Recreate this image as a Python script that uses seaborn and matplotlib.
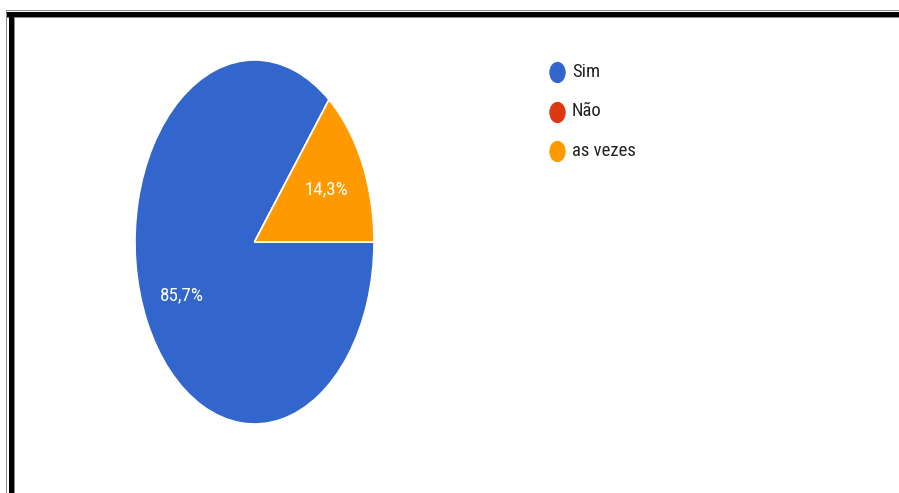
import matplotlib
matplotlib.use("Agg")
import matplotlib.pyplot as plt
import seaborn as sns
from matplotlib import font_manager
from matplotlib.patches import Rectangle
from matplotlib.path import Path
from matplotlib.transforms import Affine2D

# Survey answers
categories = ["Sim", "Não", "as vezes"]
values = [6, 0, 1]
colors = ["#3366cc", "#dc3912", "#ff9900"]

sns.set_theme(style="white")

installed = {f.name for f in font_manager.fontManager.ttflist}
narrow = [n for n in ("Roboto Condensed", "Liberation Sans Narrow", "Open Sans Condensed",
                      "DejaVu Sans Condensed") if n in installed]
FONT = narrow[0] if narrow else "Roboto"
SCALE = 1.12 if narrow else 1.0
plt.rcParams["font.family"] = [FONT, "DejaVu Sans"]

W, H = 899, 493
fig = plt.figure(figsize=(W / 100, H / 100), dpi=100)
fig.patch.set_facecolor("white")


def fig_box(x0, y0, x1, y1):
    """Pixel box (top-left origin) -> figure fraction rect."""
    return [x0 / W, 1 - y1 / H, (x1 - x0) / W, (y1 - y0) / H]


# Pie axes (stretched vertically)
ax = fig.add_axes(fig_box(135, 60, 374, 424))


def pct_label(p):
    return f"{p:.1f}%".replace(".", ",") if p > 0 else ""


wedges, _, autotexts = ax.pie(
    values,
    colors=colors,
    startangle=0,
    counterclock=False,
    autopct=pct_label,
    pctdistance=0.67,
    wedgeprops=dict(edgecolor="white", linewidth=1.2),
    textprops=dict(color="white", fontsize=12.2 * SCALE),
)
ax.set_aspect("auto")
ax.set_xlim(-1, 1)
ax.set_ylim(-1, 1)
ax.axis("off")

# Legend drawn on a full-figure overlay in pixel units
lax = fig.add_axes([0, 0, 1, 1])
lax.set_xlim(0, W)
lax.set_ylim(H, 0)
lax.axis("off")
lax.patch.set_alpha(0)

oval = Path.unit_circle().transformed(Affine2D().scale(1.0, 1.3))
legend_y = [72, 111.5, 151]
for cat, col, yy in zip(categories, colors, legend_y):
    lax.scatter([556.5], [yy], s=235, marker=oval, color=col, linewidths=0)
    lax.text(572, yy, cat, fontsize=12.0 * SCALE, color="#222222", va="center", ha="left")

# Window frame
frame = [
    ((6, 10, W, 11), "#8a8a8a"),
    ((6, 12, W, 17), "#000000"),
    ((6, 17, W, 18), "#8a8a8a"),
    ((6, 10, 7, H), "#8a8a8a"),
    ((9, 12, 14, H), "#000000"),
    ((14, 17, 15, H), "#8a8a8a"),
]
for (x0, y0, x1, y1), c in frame:
    fig.add_artist(Rectangle((x0 / W, 1 - y1 / H), (x1 - x0) / W, (y1 - y0) / H,
                             transform=fig.transFigure, facecolor=c, edgecolor="none"))

fig.savefig("out.png", dpi=100, facecolor="white")
